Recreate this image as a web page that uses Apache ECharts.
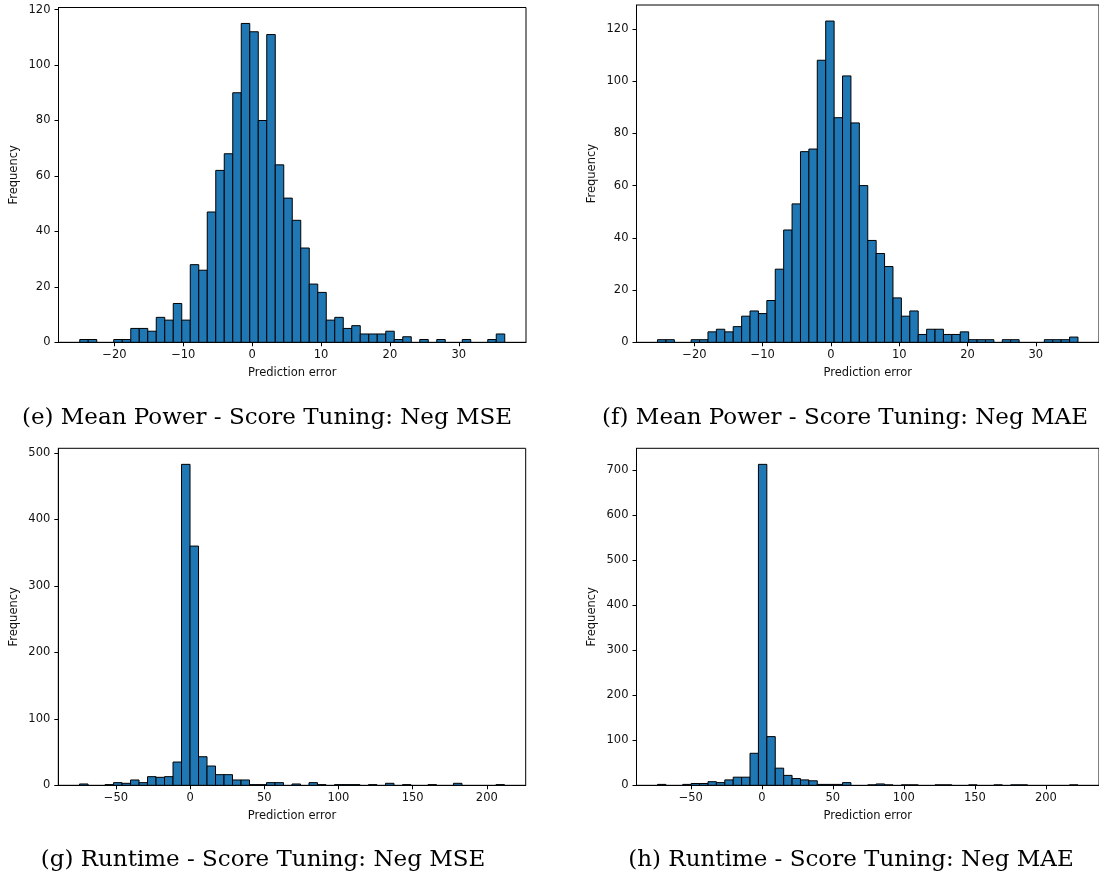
<!DOCTYPE html>
<html>
<head>
<meta charset="utf-8">
<script src="https://cdn.jsdelivr.net/npm/echarts@6/dist/echarts.min.js"></script>
<style>
  html, body { margin: 0; padding: 0; background: #fff; }
  #chart { width: 1099px; height: 882px; }
</style>
</head>
<body>
<div id="chart"></div>
<script>
// histogram counts, 50 bins each
const countsE = [1,1,0,0,1,1,5,5,4,9,8,14,8,28,26,47,62,68,90,115,112,80,111,64,52,44,34,21,18,8,9,5,6,3,3,3,4,1,2,0,1,0,1,0,0,1,0,0,1,3];
const countsF = [1,1,0,0,1,1,4,5,4,6,10,12,11,16,28,43,53,73,74,108,123,86,102,84,60,39,34,29,17,10,12,3,5,5,3,3,4,1,1,1,0,1,1,0,0,0,1,1,1,2];
const countsG = [2,0,0,1,4,3,8,4,13,12,13,35,483,360,43,29,16,16,8,8,1,1,4,4,0,2,0,4,1,0,1,1,1,0,1,0,3,0,1,0,0,1,0,0,3,0,0,0,0,1];
const countsH = [2,0,0,2,4,4,8,6,12,18,18,71,712,108,38,22,15,12,10,2,2,2,6,0,0,1,3,1,0,1,1,0,0,1,1,0,0,1,0,0,1,0,1,1,0,0,0,0,0,1];

// first and last bin edge of each histogram
const rangeE = [-25.03, 36.67];
const rangeF = [-25.41, 36.18];
const rangeG = [-74.5, 211.9];
const rangeH = [-73.4, 222.6];

// tick labels
const xTicksE = [-20, -10, 0, 10, 20, 30];
const xTicksF = [-20, -10, 0, 10, 20, 30];
const xTicksG = [-50, 0, 50, 100, 150, 200];
const xTicksH = [-50, 0, 50, 100, 150, 200];
const yTicksE = [0, 20, 40, 60, 80, 100, 120];
const yTicksF = [0, 20, 40, 60, 80, 100, 120];
const yTicksG = [0, 100, 200, 300, 400, 500];
const yTicksH = [0, 100, 200, 300, 400, 500, 600, 700];

const captions = [
    '(e) Mean Power - Score Tuning: Neg MSE',
    '(f) Mean Power - Score Tuning: Neg MAE',
    '(g) Runtime - Score Tuning: Neg MSE',
    '(h) Runtime - Score Tuning: Neg MAE'
];

const panels = [
    {counts: countsE, range: rangeE, xTicks: xTicksE, yTicks: yTicksE, grid: {left: 58.5, top: 7.5, width: 467.5, height: 334.8}},
    {counts: countsF, range: rangeF, xTicks: xTicksF, yTicks: yTicksF, grid: {left: 636.5, top: 5, width: 467, height: 337.3}},
    {counts: countsG, range: rangeG, xTicks: xTicksG, yTicks: yTicksG, grid: {left: 58.3, top: 448.3, width: 467.4, height: 337}},
    {counts: countsH, range: rangeH, xTicks: xTicksH, yTicks: yTicksH, grid: {left: 636.5, top: 448.3, width: 467, height: 337}}
];

// turn counts + range into [x0, x1, count] bins
function toBins(counts, range) {
    const w = (range[1] - range[0]) / counts.length;
    return counts.map((c, i) => [range[0] + i * w, range[0] + (i + 1) * w, c]);
}

const fmt = v => String(v).replace('-', '\u2212');
const font = {fontFamily: 'DejaVu Sans', fontSize: 11.5, color: '#111'};
const axisLine = {show: true, onZero: false, lineStyle: {color: '#000', width: 1}};

const chart = echarts.init(document.getElementById('chart'));

const grid = [], xAxis = [], yAxis = [], series = [];
panels.forEach((p, i) => {
    grid.push(Object.assign({show: true, borderColor: '#000', borderWidth: 1, backgroundColor: '#fff'}, p.grid));
    const span = p.range[1] - p.range[0];
    xAxis.push({
        type: 'value', gridIndex: i, position: 'bottom',
        min: p.range[0] - 0.05 * span, max: p.range[1] + 0.05 * span,
        name: 'Prediction error', nameLocation: 'middle', nameGap: 25,
        nameTextStyle: font,
        axisLine: axisLine,
        splitLine: {show: false},
        axisTick: {show: true, inside: false, length: 4, lineStyle: {color: '#000'}, customValues: p.xTicks},
        axisLabel: Object.assign({margin: 7, formatter: fmt, customValues: p.xTicks}, font)
    });
    yAxis.push({
        type: 'value', gridIndex: i, position: 'left',
        min: 0, max: Math.max(...p.counts) * 1.05,
        name: 'Frequency', nameLocation: 'middle', nameGap: 38,
        nameTextStyle: font,
        axisLine: axisLine,
        splitLine: {show: false},
        axisTick: {show: true, inside: false, length: 4, lineStyle: {color: '#000'}, customValues: p.yTicks},
        axisLabel: Object.assign({margin: 8, customValues: p.yTicks}, font)
    });
    series.push({
        type: 'custom', xAxisIndex: i, yAxisIndex: i,
        data: toBins(p.counts, p.range),
        encode: {x: [0, 1], y: 2},
        renderItem: (params, api) => {
            const h = api.value(2);
            if (!h) return;
            const p0 = api.coord([api.value(0), h]);
            const p1 = api.coord([api.value(1), 0]);
            return {
                type: 'rect',
                shape: {x: p0[0], y: p0[1], width: p1[0] - p0[0], height: p1[1] - p0[1]},
                style: {fill: '#1f77b4', stroke: '#000', lineWidth: 1}
            };
        }
    });
});

// figure captions under each panel
const capPos = [[267, 418], [845, 418], [263, 860], [851, 860]];
const graphic = captions.map((t, i) => ({
    type: 'text', x: capPos[i][0], y: capPos[i][1],
    style: {text: t, fontFamily: 'DejaVu Serif', fontSize: 23, fill: '#000', align: 'center', verticalAlign: 'middle'}
}));

chart.setOption({animation: false, grid, xAxis, yAxis, series, graphic});
</script>
</body>
</html>
